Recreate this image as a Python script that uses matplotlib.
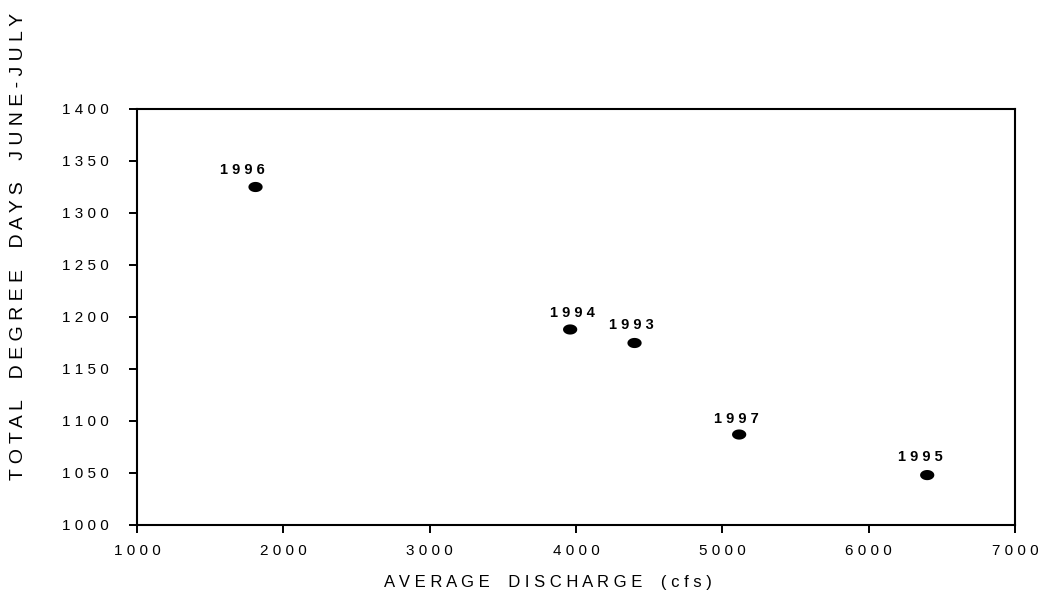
import matplotlib
matplotlib.use("Agg")
import matplotlib.pyplot as plt
import numpy as np
from matplotlib.path import Path
from matplotlib.ticker import FuncFormatter

# Discharge vs. accumulated degree days, by year
years = ["1996", "1994", "1993", "1997", "1995"]
discharge_cfs = [1810, 3960, 4400, 5115, 6400]
degree_days = [1325, 1188, 1175, 1087, 1048]

x_ticks = [1000, 2000, 3000, 4000, 5000, 6000, 7000]
y_ticks = [1000, 1050, 1100, 1150, 1200, 1250, 1300, 1350, 1400]

# per-label offsets (points) of the year annotations, measured to label centre
label_offsets = [(-9.5, 12.2), (1.4, 12.2), (-2.2, 13.0), (-2.2, 11.5), (-5.0, 13.0)]

plt.rcParams["font.family"] = ["Liberation Sans", "DejaVu Sans"]


def spaced(s):
    return " ".join(s)


# wide ellipse marker
t = np.linspace(0, 2 * np.pi, 60)
ellipse = Path(np.column_stack([1.4 * np.cos(t), np.sin(t)]), closed=True)

fig = plt.figure(figsize=(10.42, 6.0), dpi=100)
ax = fig.add_axes([137 / 1042, 75 / 600, 878 / 1042, 416 / 600])

ax.scatter(discharge_cfs, degree_days, marker=ellipse, s=105, c="black",
           edgecolors="none", zorder=3)

for yr, xv, yv, off in zip(years, discharge_cfs, degree_days, label_offsets):
    ax.annotate(spaced(yr), (xv, yv), xytext=off, textcoords="offset points",
                ha="center", va="center", fontsize=10.5, fontweight="bold")

ax.set_xlim(1000, 7000)
ax.set_ylim(1000, 1400)
ax.set_xticks(x_ticks)
ax.set_yticks(y_ticks)
fmt = FuncFormatter(lambda v, p: spaced(str(int(round(v)))))
ax.xaxis.set_major_formatter(fmt)
ax.yaxis.set_major_formatter(fmt)
ax.tick_params(direction="out", length=6, width=1.4, labelsize=11)
ax.tick_params(axis="x", pad=8)
ax.tick_params(axis="y", pad=14)

for sp in ax.spines.values():
    sp.set_linewidth(1.5)

fig.text(548 / 1042, 1 - 582 / 600,
         spaced("AVERAGE DISCHARGE").replace("   ", "    ") + "    " + spaced("(cfs)"),
         ha="center", va="center", fontsize=12)
fig.text(19 / 1042, 1 - 246 / 600,
         spaced("TOTAL DEGREE DAYS JUNE-JULY").replace("   ", "    "),
         rotation=90, ha="center", va="center", fontsize=14)

fig.savefig("out.png", dpi=100)
